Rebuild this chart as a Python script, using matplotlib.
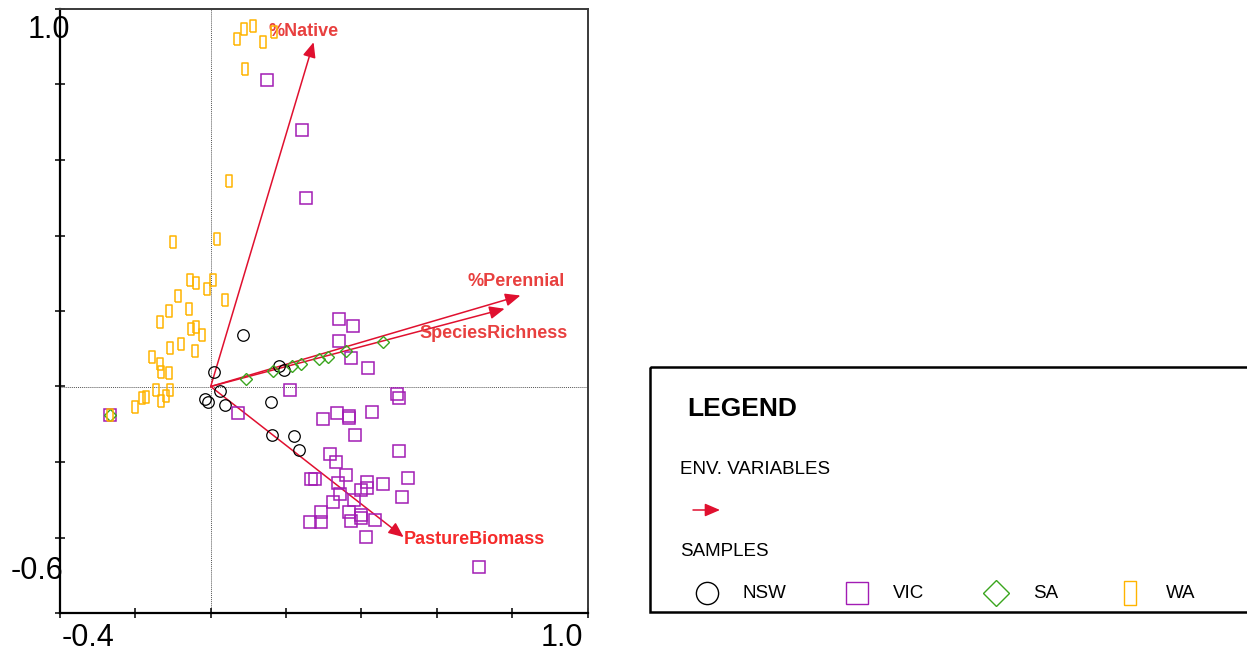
import numpy as np
import matplotlib
matplotlib.use('Agg')
import matplotlib.pyplot as plt
from matplotlib.patches import Rectangle

plt.rcParams['font.family'] = ['Liberation Sans', 'DejaVu Sans']

# sample scores (axis 1, axis 2)
nsw_x = [0.086, 0.010, 0.182, 0.195, 0.024, -0.014, -0.006, 0.038, 0.161, 0.163, 0.222, 0.234]
nsw_y = [0.136, 0.038, 0.053, 0.043, -0.013, -0.033, -0.040, -0.049, -0.040, -0.129, -0.131, -0.168]

vic_x = [0.149, 0.242, 0.253, 0.341, 0.378, 0.341, 0.373, 0.417, 0.211, 0.494, 0.499, 0.073,
         0.334, 0.366, 0.367, 0.428, 0.297, 0.382, 0.500, 0.317, 0.332, 0.265, 0.278, 0.360,
         0.337, 0.344, 0.416, 0.414, 0.400, 0.456, 0.524, 0.507, 0.379, 0.324, 0.294, 0.367,
         0.399, 0.399, 0.264, 0.294, 0.371, 0.437, 0.411, 0.713, -0.267]
vic_y = [0.813, 0.679, 0.499, 0.179, 0.159, 0.120, 0.076, 0.050, -0.008, -0.019, -0.031, -0.070,
         -0.069, -0.077, -0.084, -0.068, -0.086, -0.129, -0.171, -0.180, -0.200, -0.245, -0.246, -0.235,
         -0.255, -0.284, -0.252, -0.268, -0.273, -0.257, -0.242, -0.293, -0.300, -0.305, -0.333, -0.333,
         -0.340, -0.349, -0.358, -0.358, -0.355, -0.353, -0.399, -0.478, -0.075]

sa_x = [0.094, 0.165, 0.215, 0.240, 0.288, 0.312, 0.360, 0.457, -0.267]
sa_y = [0.021, 0.041, 0.053, 0.060, 0.074, 0.078, 0.093, 0.118, -0.075]

wa_x = [0.071, 0.089, 0.113, 0.140, 0.168, 0.092, 0.048, -0.100, 0.018, -0.054, -0.039, 0.005,
        -0.010, -0.087, 0.039, -0.112, -0.057, -0.134, -0.053, -0.038, -0.024, -0.107, -0.080, -0.042,
        -0.156, -0.134, -0.133, -0.110, -0.145, -0.107, -0.173, -0.183, -0.120, -0.131, -0.201, -0.267]
wa_y = [0.920, 0.947, 0.954, 0.913, 0.938, 0.842, 0.544, 0.383, 0.390, 0.281, 0.274, 0.283,
        0.257, 0.239, 0.229, 0.201, 0.204, 0.172, 0.151, 0.157, 0.137, 0.101, 0.112, 0.094,
        0.077, 0.060, 0.039, 0.037, -0.010, -0.008, -0.027, -0.031, -0.024, -0.038, -0.055, -0.075]

# environmental variable arrows
env_names = ['%Native', '%Perennial', 'SpeciesRichness', 'PastureBiomass']
env_x = [0.273, 0.822, 0.780, 0.512]
env_y = [0.912, 0.241, 0.206, -0.399]
# label offsets from arrow tip (points) and colours
lab_off = [(-7, 8), (-3, 10), (-8, -18), (51, -2)]
lab_col = ['#e8403f', '#e8403f', '#e8403f', '#f52a2a']

arrow_col = '#e0102f'
nsw_col = 'black'
vic_col = '#a21cb4'
sa_col = '#3aa51e'
wa_col = '#ffb400'

# narrow upright rectangle marker for WA
wa_marker = [(-0.25, -0.5), (0.25, -0.5), (0.25, 0.5), (-0.25, 0.5), (-0.25, -0.5)]

W, H = 1247, 657
fig = plt.figure(figsize=(W / 100, H / 100), dpi=100)
ax = fig.add_axes([60 / W, (H - 613) / H, 527.5 / W, 604 / H])
ax.set_xlim(-0.4, 1.0)
ax.set_ylim(-0.6, 1.0)
ax.set_xticks(np.arange(-0.4, 1.01, 0.2))
ax.set_yticks(np.arange(-0.6, 1.01, 0.2))
ax.tick_params(direction='inout', length=7, width=1.1, labelbottom=False, labelleft=False)
for s in ['left', 'bottom']:
    ax.spines[s].set_linewidth(1.6)
    ax.spines[s].set_color('black')
for s in ['top', 'right']:
    ax.spines[s].set_linewidth(1.4)
    ax.spines[s].set_color('#3a3a3a')

# dotted origin lines
ax.axhline(0, color='#555555', lw=0.7, ls=(0, (1, 1)), zorder=1)
ax.axvline(0, color='#555555', lw=0.7, ls=(0, (1, 1)), zorder=1)

# arrows and labels
for name, x, y, off, c in zip(env_names, env_x, env_y, lab_off, lab_col):
    ax.annotate('', xy=(x, y), xytext=(0, 0),
                arrowprops=dict(arrowstyle='-|>,head_length=0.65,head_width=0.28',
                                color=arrow_col, lw=1.1, mutation_scale=14,
                                shrinkA=0, shrinkB=0), zorder=2)
    ax.annotate(name, xy=(x, y), xytext=off, textcoords='offset points',
                ha='center', va='center', color=c, fontsize=13,
                fontweight='bold', zorder=2)

# samples
ax.plot(nsw_x, nsw_y, 'o', ls='none', ms=8.3, mfc='none', mec=nsw_col, mew=0.9, zorder=3)
ax.plot(vic_x, vic_y, 's', ls='none', ms=9.2, mfc='none', mec=vic_col, mew=1.1, zorder=3)
ax.plot(sa_x, sa_y, 'D', ls='none', ms=5.8, mfc='none', mec=sa_col, mew=1.0, zorder=3)
ax.plot(wa_x, wa_y, marker=wa_marker, ls='none', ms=9, mfc='none', mec=wa_col, mew=1.1, zorder=3)

# overlay in pixel coordinates for axis end labels and the legend box
ov = fig.add_axes([0, 0, 1, 1])
ov.set_xlim(0, W)
ov.set_ylim(H, 0)
ov.axis('off')
ov.patch.set_visible(False)

ov.text(62, 638, '-0.4', ha='left', va='center', fontsize=22)
ov.text(583, 638, '1.0', ha='right', va='center', fontsize=22)
ov.text(70, 30, '1.0', ha='right', va='center', fontsize=22)
ov.text(63, 571, '-0.6', ha='right', va='center', fontsize=22)

ov.add_patch(Rectangle((650, 367), 620, 245, fill=False, lw=1.8, ec='black'))
ov.text(687, 409, 'LEGEND', ha='left', va='center', fontsize=19, fontweight='bold')
ov.text(680, 470, 'ENV. VARIABLES', ha='left', va='center', fontsize=13.5)
ov.annotate('', xy=(720, 510), xytext=(693, 510),
            arrowprops=dict(arrowstyle='-|>,head_length=0.65,head_width=0.28',
                            color=arrow_col, lw=1.1, mutation_scale=14,
                            shrinkA=0, shrinkB=0))
ov.text(680, 552, 'SAMPLES', ha='left', va='center', fontsize=13.5)

leg_items = [('o', nsw_col, 16, 707, 'NSW', 742),
             ('s', vic_col, 16, 857, 'VIC', 893),
             ('D', sa_col, 13, 996, 'SA', 1033),
             (wa_marker, wa_col, 17, 1130, 'WA', 1166)]
for mk, c, ms, mx, lab, tx in leg_items:
    ov.plot([mx], [593], marker=mk, ls='none', ms=ms, mfc='none', mec=c, mew=1.0)
    ov.text(tx, 593, lab, ha='left', va='center', fontsize=13.5)

fig.savefig('out.png', dpi=100)
